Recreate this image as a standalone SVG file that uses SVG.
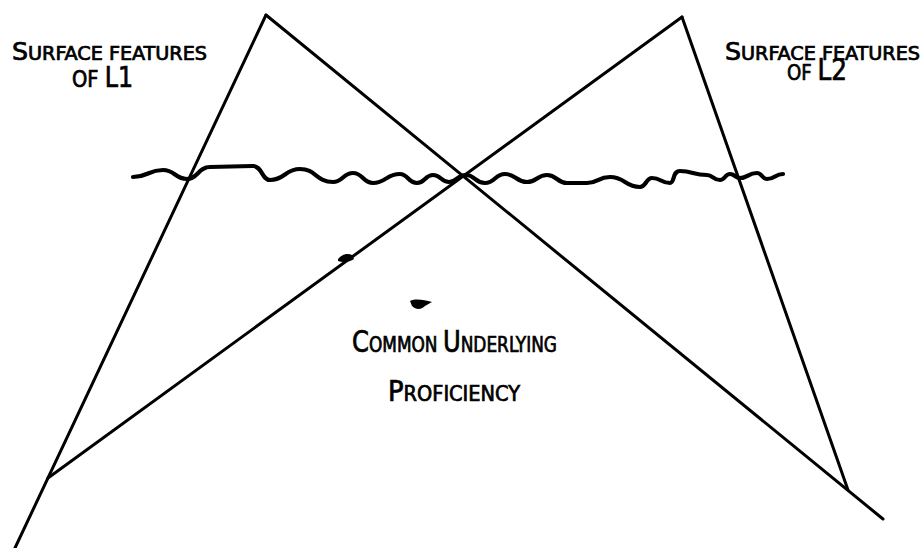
<svg xmlns="http://www.w3.org/2000/svg" width="924" height="548" viewBox="0 0 924 548">
<style>
.ln{fill:none;stroke:#000;stroke-width:3;stroke-linecap:round;stroke-linejoin:round}
.wv{fill:none;stroke:#000;stroke-width:4.2;stroke-linecap:round;stroke-linejoin:round}
.t{font-family:"DejaVu Sans Condensed","Liberation Sans",sans-serif;font-weight:normal;fill:#000;stroke:#000;stroke-width:0.7}
.b{font-size:25px}
.s{font-size:19px}
.b2{font-size:30px}
.s2{font-size:21px}
</style>
<rect width="924" height="548" fill="#fff"/>
<g id="connectors">
<path class="ln" d="M266,15 L15,548"/>
<path class="ln" d="M266,15 L883,519"/>
<path class="ln" d="M48,478 L682,17"/>
<path class="ln" d="M682,17 L848,490"/>
<path class="wv" d="M133,177 C148,177 148,170 163,170 C175,170 175,179 187,179 C198,179 198,167 210,167 C231,167 231,166 253,166 C262,166 262,180 270,180 C285,180 285,169 300,169 C316,169 316,182 333,182 C343,182 343,173 353,173 C363,173 363,183 373,183 C386,183 386,174 400,174 C408,174 408,183 417,183 C425,183 425,175 433,175 C441,175 441,182 449,182 C457,182 457,175 466,175 C475,175 475,183 485,183 C495,183 495,174 505,174 C516,174 516,182 527,182 C537,182 537,175 547,175 C557,175 557,183 567,183 C577,183 577,183 587,183 C598,183 598,177 610,177 C625,177 625,187 640,187 C646,187 646,178 652,178 C661,178 661,183 670,183 C675,183 672,171 680,171 C693,171 693,175 707,175 C713,175 713,180 720,180 C725,180 725,174 730,174 C735,174 735,178 740,178 C748,178 748,173 757,173 C762,173 762,179 767,179 C775,179 775,174 783,174"/>
</g>
<g id="artifacts">
<path d="M338,259 C342,254 348,253 352,255 L354,259 C350,262 343,263 338,261 Z" fill="#000"/>
<path d="M410,301 C416,298 424,300 432,302 L425,306 C421,310 416,310 412,306 Z" fill="#000"/>
</g>
<g id="label-l1">
<text class="t" x="12" y="60" textLength="195" lengthAdjust="spacingAndGlyphs"><tspan class="b">S</tspan><tspan class="s">URFACE FEATURES</tspan></text>
<text class="t" x="72" y="87" textLength="61" lengthAdjust="spacingAndGlyphs"><tspan font-size="23px">OF </tspan><tspan font-size="28px">L1</tspan></text>
</g>
<g id="label-l2">
<text class="t" x="725" y="60" textLength="195" lengthAdjust="spacingAndGlyphs"><tspan class="b">S</tspan><tspan class="s">URFACE FEATURES</tspan></text>
<text class="t" x="787" y="80" textLength="60" lengthAdjust="spacingAndGlyphs"><tspan font-size="22px">OF </tspan><tspan font-size="30px">L2</tspan></text>
</g>
<g id="label-cup">
<text class="t" x="352" y="352" textLength="205" lengthAdjust="spacingAndGlyphs"><tspan class="b2">C</tspan><tspan class="s2">OMMON </tspan><tspan class="b2">U</tspan><tspan class="s2">NDERLYING</tspan></text>
<text class="t" x="388" y="401" textLength="132" lengthAdjust="spacingAndGlyphs"><tspan font-size="28px">P</tspan><tspan class="s2">ROFICIENCY</tspan></text>
</g>
</svg>
